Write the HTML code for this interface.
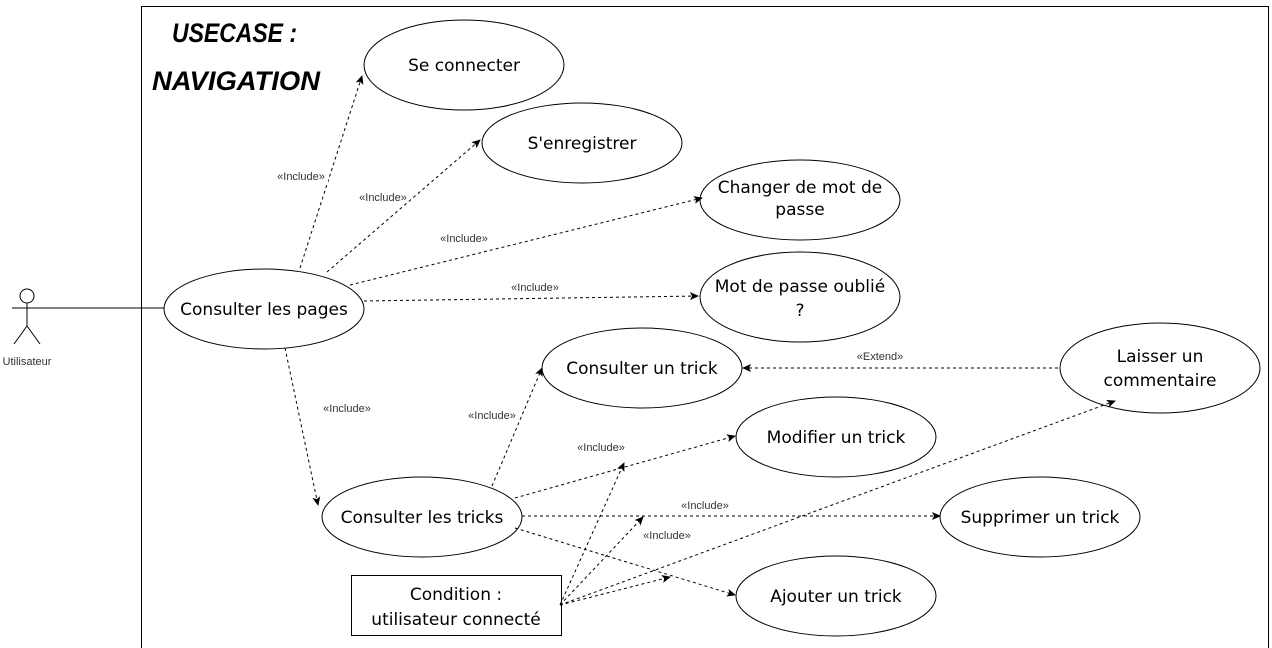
<!DOCTYPE html>
<html><head><meta charset="utf-8"><style>
body{margin:0;background:#fff}
svg{display:block}
.u{font-family:"DejaVu Sans","Liberation Sans",sans-serif;font-size:17px;fill:#000}
.l{font-family:"Liberation Sans",sans-serif;font-size:11px;fill:#333}
.t{font-family:"Liberation Sans",sans-serif;font-size:27px;font-weight:bold;font-style:italic;fill:#000}
</style></head><body>
<svg width="1272" height="648" viewBox="0 0 1272 648" xmlns="http://www.w3.org/2000/svg">
<defs><marker id="a" markerWidth="10" markerHeight="10" refX="8" refY="4" orient="auto" markerUnits="userSpaceOnUse"><path d="M0,0 L9,4 L0,8 L2,4 z" fill="#000"/></marker></defs>
<rect x="141.5" y="6.5" width="1127" height="642" fill="none" stroke="#000"/>
<text class="t" x="172" y="42" textLength="125" lengthAdjust="spacingAndGlyphs">USECASE :</text>
<text class="t" x="152" y="90" textLength="168" lengthAdjust="spacingAndGlyphs">NAVIGATION</text>
<!-- actor -->
<g stroke="#000" fill="none" stroke-width="1">
<circle cx="27" cy="296" r="7"/>
<line x1="27" y1="303" x2="27" y2="326"/>
<line x1="12" y1="308" x2="42" y2="308"/>
<line x1="27" y1="326" x2="14" y2="344"/>
<line x1="27" y1="326" x2="40" y2="344"/>
<line x1="42" y1="308" x2="164" y2="308"/>
</g>
<text class="l" x="27" y="365" text-anchor="middle" font-size="10">Utilisateur</text>
<g fill="#fff" stroke="#000">
<ellipse cx="464" cy="65" rx="100" ry="45"/>
<ellipse cx="582" cy="143" rx="100" ry="40"/>
<ellipse cx="800" cy="200" rx="100" ry="40"/>
<ellipse cx="800" cy="297" rx="100" ry="45"/>
<ellipse cx="264" cy="309" rx="100" ry="40"/>
<ellipse cx="642" cy="368" rx="100" ry="40"/>
<ellipse cx="1160" cy="368" rx="100" ry="45"/>
<ellipse cx="836" cy="437" rx="100" ry="40"/>
<ellipse cx="422" cy="517" rx="100" ry="40"/>
<ellipse cx="1040" cy="517" rx="100" ry="40"/>
<ellipse cx="836" cy="596" rx="100" ry="40"/>
<rect x="351.5" y="575.5" width="210" height="60"/>
</g>
<g stroke="#000" stroke-dasharray="3,3" fill="none" marker-end="url(#a)">
<line x1="300" y1="268" x2="362" y2="76"/>
<line x1="327" y1="272" x2="480" y2="140"/>
<line x1="350" y1="285" x2="702" y2="198"/>
<line x1="364" y1="301" x2="698" y2="296"/>
<line x1="285" y1="348" x2="318" y2="505"/>
<line x1="492" y1="486" x2="542" y2="368"/>
<line x1="515" y1="498" x2="735" y2="436"/>
<line x1="522" y1="516" x2="940" y2="516"/>
<line x1="515" y1="528" x2="735" y2="595"/>
<line x1="560" y1="605" x2="624" y2="463"/>
<line x1="560" y1="605" x2="643" y2="517"/>
<line x1="560" y1="605" x2="670" y2="577"/>
<line x1="560" y1="605" x2="1115" y2="401"/>
<line x1="1058" y1="368" x2="743" y2="368"/>
</g>
<g class="l" text-anchor="middle">
<rect x="270" y="170" width="58" height="13" fill="#fff"/>
<text x="301" y="180">«Include»</text>
<text x="383" y="201">«Include»</text>
<text x="464" y="242">«Include»</text>
<text x="535" y="291">«Include»</text>
<text x="347" y="412">«Include»</text>
<text x="492" y="419">«Include»</text>
<text x="601" y="451">«Include»</text>
<text x="705" y="509">«Include»</text>
<text x="667" y="539">«Include»</text>
<text x="880" y="360">«Extend»</text>
</g>
<g class="u" text-anchor="middle">
<text x="464" y="71">Se connecter</text>
<text x="582" y="149">S'enregistrer</text>
<text x="800" y="193">Changer de mot de</text>
<text x="800" y="215">passe</text>
<text x="800" y="292">Mot de passe oublié</text>
<text x="800" y="316">?</text>
<text x="264" y="315">Consulter les pages</text>
<text x="642" y="374">Consulter un trick</text>
<text x="1160" y="362">Laisser un</text>
<text x="1160" y="386">commentaire</text>
<text x="836" y="443">Modifier un trick</text>
<text x="422" y="523">Consulter les tricks</text>
<text x="1040" y="523">Supprimer un trick</text>
<text x="836" y="602">Ajouter un trick</text>
<text x="456" y="600">Condition :</text>
<text x="456" y="625">utilisateur connecté</text>
</g>
</svg>
</body></html>
